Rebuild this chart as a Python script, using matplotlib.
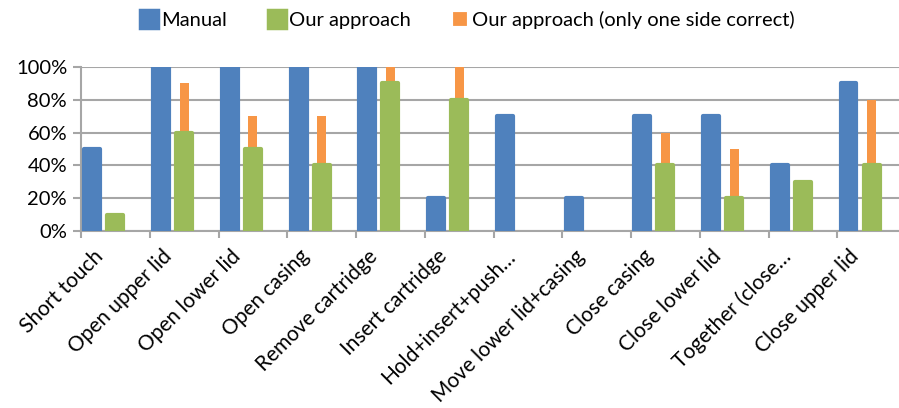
import numpy as np
import matplotlib
matplotlib.use("Agg")
import matplotlib.pyplot as plt
from matplotlib.patches import Patch

plt.rcParams['font.family'] = ['Lato', 'DejaVu Sans']

categories = ["Short touch", "Open upper lid", "Open lower lid", "Open casing",
              "Remove cartridge", "Insert cartridge", "Hold+insert+push\u2026",
              "Move lower lid+casing", "Close casing", "Close lower lid",
              "Together (close\u2026", "Close upper lid"]
manual = [50, 100, 100, 100, 100, 20, 70, 20, 70, 70, 40, 90]
ours = [10, 60, 50, 40, 90, 80, 0, 0, 40, 20, 30, 40]
# total including cases where only one side is correct
ours_one_side = [10, 90, 70, 70, 100, 100, 0, 0, 60, 50, 30, 80]

blue = "#4F81BD"
green = "#9BBB59"
orange = "#F79646"
grid_col = "#A6A6A6"

fig = plt.figure(figsize=(8.99, 4.08), dpi=100)
ax = fig.add_axes([81/899, 1 - 231/408, 825/899, 164/408])

x = np.arange(len(categories))
ours_arr = np.array(ours)
extra = np.array(ours_one_side) - ours_arr
man_arr = np.array(manual)

m = man_arr > 0
ax.bar(x[m] - 0.335, man_arr[m], width=0.23, color=blue, edgecolor=blue,
       linewidth=3, joinstyle='round', zorder=3)
e = extra > 0
ax.bar(x[e], extra[e], bottom=ours_arr[e], width=0.13, color=orange, linewidth=0, zorder=2)
g = ours_arr > 0
ax.bar(x[g], ours_arr[g], width=0.23, color=green, edgecolor=green,
       linewidth=3, joinstyle='round', zorder=3)

ax.set_xlim(-0.5, len(categories) - 0.5)
ax.set_ylim(0, 100)
ax.set_yticks(range(0, 101, 20))
ax.set_yticklabels([f"{v}%" for v in range(0, 101, 20)], fontsize=14.5)
ax.grid(True, axis='y', color=grid_col, linewidth=1.5, zorder=0)

# category boundaries as tick marks, labels at centres
ax.set_xticks(np.arange(-0.5, len(categories), 1.0), minor=False)
ax.set_xticklabels([])
ax.set_xticks(x - 0.33, minor=True)
ax.set_xticklabels(categories, minor=True, rotation=45, ha='right',
                   rotation_mode='anchor', fontsize=15)
ax.tick_params(axis='x', which='minor', length=0, pad=11)
ax.tick_params(axis='x', which='major', length=5, color=grid_col, width=1.5)
ax.tick_params(axis='y', length=6, color=grid_col, width=1.5, pad=4)

for s in ['top', 'right']:
    ax.spines[s].set_visible(False)
for s in ['left', 'bottom']:
    ax.spines[s].set_color(grid_col)
    ax.spines[s].set_linewidth(1.5)

handles = [Patch(facecolor=blue, edgecolor=blue, linewidth=2.5, joinstyle='round', label="Manual"),
           Patch(facecolor=green, edgecolor=green, linewidth=2.5, joinstyle='round', label="Our approach"),
           Patch(facecolor=orange, edgecolor='white', linewidth=3, label="Our approach (only one side correct)")]
fig.legend(handles=handles, loc='upper center', bbox_to_anchor=(0.52, 1.02), ncol=3,
           frameon=False, fontsize=14.5, handlelength=0.9, handleheight=1.0,
           handletextpad=0.15, columnspacing=2.0)

fig.savefig("out.png", dpi=100)
